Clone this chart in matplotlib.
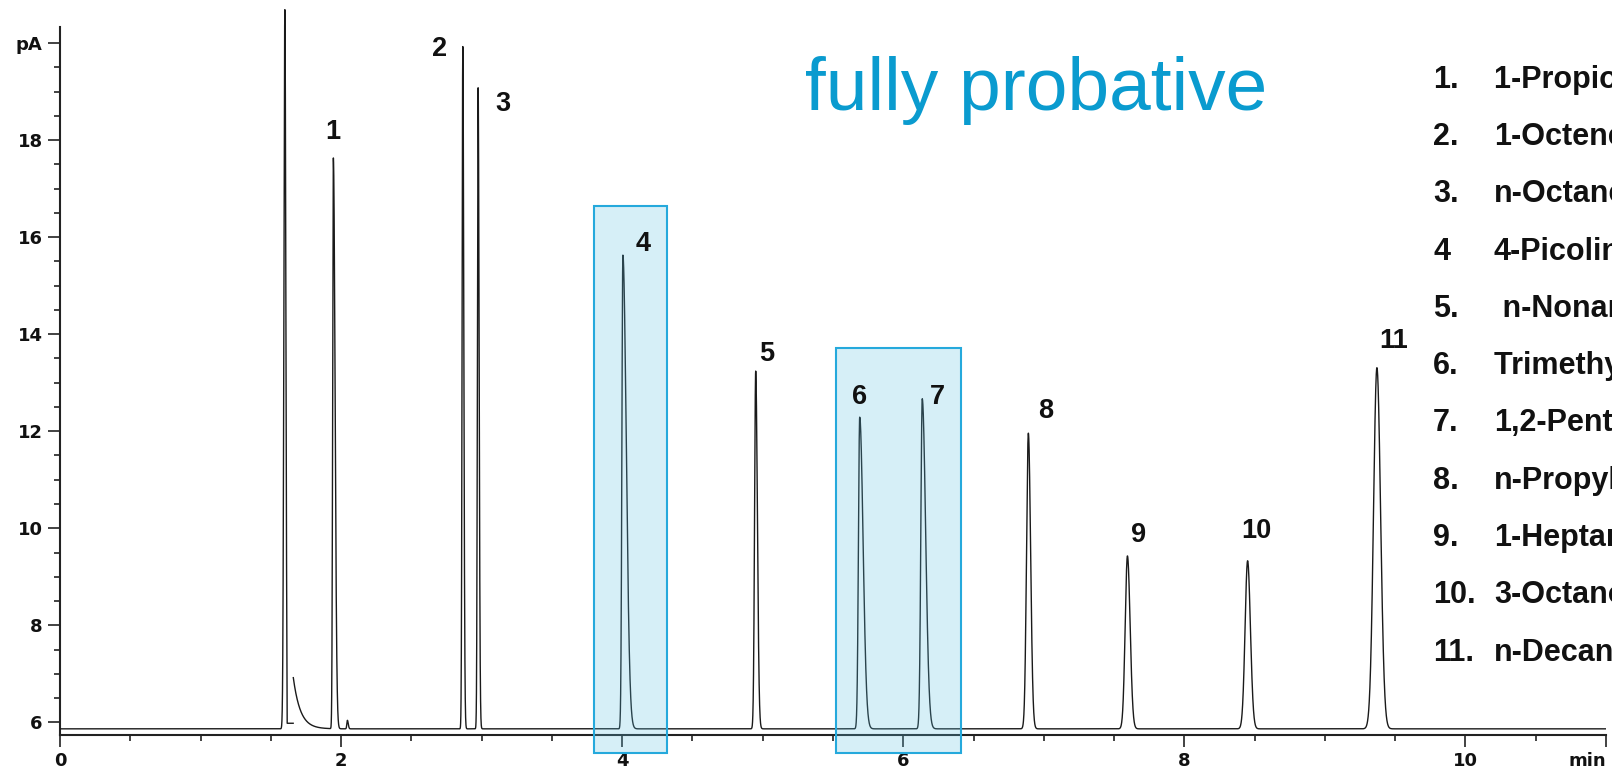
import numpy as np
import matplotlib.pyplot as plt
from matplotlib.patches import Rectangle

# peak table (retention time in min, apex in pA)
peak_rt = [1.600, 1.945, 2.045, 2.866, 2.975, 4.005, 4.950, 5.690, 6.135, 6.890, 7.595, 8.450, 9.370]
peak_apex = [20.69, 17.63, 6.04, 19.93, 19.08, 15.63, 13.24, 12.29, 12.67, 11.96, 9.43, 9.33, 13.31]
sig_front = [0.007, 0.005, 0.004, 0.005, 0.005, 0.007, 0.008, 0.009, 0.010, 0.013, 0.016, 0.018, 0.024]
sig_tail = [0.007, 0.012, 0.006, 0.007, 0.007, 0.024, 0.012, 0.024, 0.024, 0.016, 0.019, 0.020, 0.026]
baseline = 5.865

# solvent tail after the big solvent peak
stub_level = 5.98
tail_start = 1.66
tail_top = 6.92
tail_tau = 0.05

# numbered peak labels (retention time, pA)
lab_text = ['1', '2', '3', '4', '5', '6', '7', '8', '9', '10', '11']
lab_t = [1.94, 2.70, 3.155, 4.147, 5.03, 5.69, 6.24, 7.01, 7.675, 8.51, 9.49]
lab_v = [18.16, 19.88, 18.74, 15.86, 13.59, 12.71, 12.71, 12.42, 9.86, 9.94, 13.85]

# highlighted regions (t0, t1, top in pA)
box_t0 = [3.80, 5.523]
box_t1 = [4.318, 6.41]
box_top = [16.65, 13.71]
box_bottom = 5.37

leg_num = ['1.', '2.', '3.', '4', '5.', '6.', '7.', '8.', '9.', '10.', '11.']
leg_name = ['1-Propionic acid', '1-Octene', 'n-Octane', '4-Picoline', ' n-Nonane',
            'Trimethyl phosphate', '1,2-Pentanediol', 'n-Propylbenzene', '1-Heptanol',
            '3-Octanone', 'n-Decane']

W, H = 1612, 769
fig = plt.figure(figsize=(W / 100, H / 100), dpi=100)
ax = fig.add_axes([60 / W, 34 / H, 1546 / W, 1 - 34 / H])

t = np.arange(0, 11.0001, 0.0005)
y = np.full_like(t, baseline)
for r, a, sf, st in zip(peak_rt, peak_apex, sig_front, sig_tail):
    s = np.where(t < r, sf, st)
    y += (a - baseline) * np.exp(-0.5 * ((t - r) / s) ** 2)

after = t >= tail_start
y[after] += (tail_top - baseline) * np.exp(-(t[after] - tail_start) / tail_tau)
stub = (t > 1.615) & (t < tail_start)
y[stub] = stub_level
y[np.argmin(np.abs(t - tail_start)) - 1] = np.nan

ax.plot(t, y, color='#1a1a1a', lw=1.0, zorder=3)

for x0, x1, top in zip(box_t0, box_t1, box_top):
    ax.add_patch(Rectangle((x0, box_bottom), x1 - x0, top - box_bottom, facecolor='#5cc0e3',
                           alpha=0.25, edgecolor='none', clip_on=False, zorder=5))
    ax.add_patch(Rectangle((x0, box_bottom), x1 - x0, top - box_bottom, facecolor='none',
                           edgecolor='#25a9dc', lw=1.5, clip_on=False, zorder=6))

for s, x, v in zip(lab_text, lab_t, lab_v):
    ax.text(x, v, s, ha='center', va='center', fontsize=19.5, fontweight='bold',
            family='Liberation Sans', color='#111111', zorder=7)

ax.set_xlim(0, 11)
ax.set_ylim(5.738, 20.89)
for side in ['top', 'right']:
    ax.spines[side].set_visible(False)
ax.spines['left'].set_bounds(5.738, 20.34)
for side in ['left', 'bottom']:
    ax.spines[side].set_linewidth(1.5)
    ax.spines[side].set_color('#222222')

ax.set_xticks([0, 2, 4, 6, 8, 10, 11])
ax.set_xticklabels(['0', '2', '4', '6', '8', '10', 'min'])
ax.get_xticklabels()[-1].set_ha('right')
ax.set_xticks(np.arange(0, 11.01, 0.5), minor=True)
ax.set_yticks([6, 8, 10, 12, 14, 16, 18, 20])
ax.set_yticklabels(['6', '8', '10', '12', '14', '16', '18', 'pA'])
ax.set_yticks(np.arange(6, 20.01, 0.5), minor=True)
ax.tick_params(which='major', length=8.5, width=1.2, color='#222222', pad=4)
ax.tick_params(which='minor', length=4.5, width=1.2, color='#222222')
for lab in ax.get_xticklabels() + ax.get_yticklabels():
    lab.set_fontfamily('DejaVu Sans')
    lab.set_fontweight('bold')
    lab.set_fontsize(13)
    lab.set_color('#111111')

fig.text(805 / W, 1 - 110 / H, 'fully probative', fontsize=54, color='#0a9bcf',
         family='Liberation Sans', ha='left', va='baseline')

for i, (n, name) in enumerate(zip(leg_num, leg_name)):
    yb = 1 - (87.7 + i * 57.3) / H
    fig.text(1433 / W, yb, n, fontsize=22, fontweight='bold', family='Liberation Sans',
             color='#111111', va='baseline')
    fig.text(1494 / W, yb, name, fontsize=22, fontweight='bold', family='Liberation Sans',
             color='#111111', va='baseline')

fig.savefig('out.png', dpi=100)
